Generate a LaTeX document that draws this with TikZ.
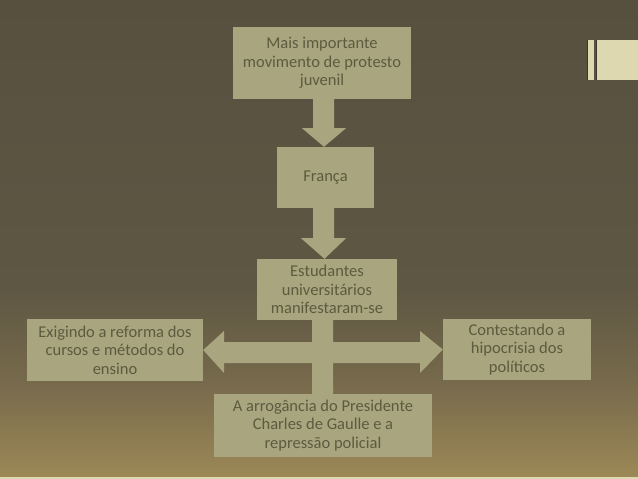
\documentclass[tikz,border=0pt]{standalone}
\usepackage{fontspec}
\setmainfont{Carlito}
\usetikzlibrary{calc}
\definecolor{bgtop}{HTML}{57503F}
\definecolor{bgmid}{HTML}{5E5743}
\definecolor{bglow}{HTML}{776A4C}
\definecolor{bgbot}{HTML}{9D8957}
\definecolor{boxfill}{HTML}{A9A57F}
\definecolor{txt}{HTML}{5D5B3F}
\definecolor{cream}{HTML}{DDD8B0}
\definecolor{shadow}{HTML}{3E382C}
\pgfdeclareverticalshading{bgshade}{100bp}{color(0bp)=(bgbot); color(25bp)=(bgbot); color(35bp)=(bglow); color(45bp)=(bgmid); color(75bp)=(bgtop); color(100bp)=(bgtop)}
\tikzset{
  box/.style={fill=boxfill, inner sep=0pt, align=center, text=txt,
    font=\fontsize{16.5}{18.5}\selectfont, anchor=center},
  blockarrow/.style={fill=boxfill}
}
\begin{document}
\begin{tikzpicture}[x=1pt,y=-1pt]
\useasboundingbox (0,0) rectangle (638,479);
\shade[shading=bgshade] (0,0) rectangle (638,479);
% bottom line
\fill[cream] (0,477) rectangle (638,479);
% top-right decoration
\fill[shadow] (587,40) rectangle (588,80);
\fill[cream] (588,40) rectangle (594,80);
\fill[shadow] (596,40) rectangle (597,80);
\fill[cream] (597,40) rectangle (638,80);

% boxes
\node[box, minimum width=178pt, minimum height=72pt] (m) at (322,63) {Mais importante\\movimento de protesto\\juvenil};
\node[box, minimum width=97pt, minimum height=61pt] (f) at (325.5,177.5) {França};
\node[box, minimum width=140pt, minimum height=61pt] (e) at (327,289.5) {Estudantes\\universitários\\manifestaram-se};
\node[box, minimum width=176pt, minimum height=62pt] (l) at (115,350) {Exigindo a reforma dos\\cursos e métodos do\\ensino};
\node[box, minimum width=148pt, minimum height=61pt] (r) at (517,349.5) {Contestando a\\hipocrisia dos\\políticos};
\node[box, minimum width=218pt, minimum height=63pt] (b) at (323,425.5) {A arrogância do Presidente\\Charles de Gaulle e a\\repressão policial};

% arrow 1: m -> f
\fill[blockarrow] ($(m.south)+(-9,0)$) -- ++(21,0) -- ++(0,29) -- ++(12,0)
  -- ($(f.north)+(-1.5,0)$) -- ($(m.south)+(-20,29)$) -- ++(11,0) -- cycle;
% arrow 2: f -> e
\fill[blockarrow] ($(f.south)+(-12.5,0)$) -- ++(21,0) -- ++(0,30) -- ++(12,0)
  -- ($(e.north)+(-2.5,0)$) -- ($(f.south)+(-24.5,30)$) -- ++(12,0) -- cycle;
% cross: e -> l, e -> r, e -- b
\fill[blockarrow] ($(e.south)+(-15,0)$) -- ($(e.south)+(6,0)$) -- (333,342) -- (420,342) -- (420,331)
  -- (r.west) -- (420,373) -- (420,363) -- (333,363) -- ($(b.north)+(10,0)$)
  -- ($(b.north)+(-11,0)$) -- (312,363) -- (224,363) -- (224,373) -- (l.east)
  -- (224,331) -- (224,342) -- (312,342) -- cycle;
\end{tikzpicture}
\end{document}
